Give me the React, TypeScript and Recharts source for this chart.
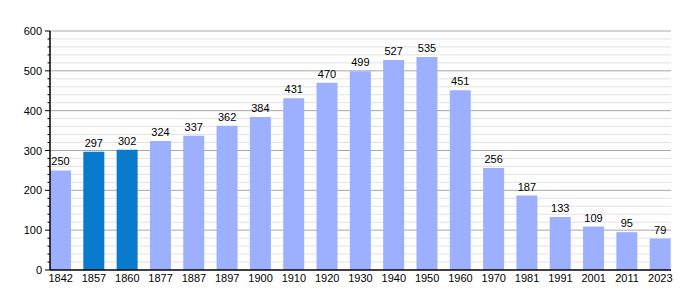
import React from 'react';
import { BarChart, Bar, XAxis, YAxis, CartesianGrid, Cell, LabelList } from 'recharts';

const years = ['1842','1857','1860','1877','1887','1897','1900','1910','1920','1930','1940','1950','1960','1970','1981','1991','2001','2011','2023'];
const population = [250,297,302,324,337,362,384,431,470,499,527,535,451,256,187,133,109,95,79];
const highlighted = ['1857','1860'];
const yTicks = [0,20,40,60,80,100,120,140,160,180,200,220,240,260,280,300,320,340,360,380,400,420,440,460,480,500,520,540,560,580,600];
const yMax = 600;
const majorTicks = [100,200,300,400,500,600];
const minorTicks = yTicks.filter(v => v % 100 !== 0);

const data = years.map((y, i) => ({ year: y, value: population[i] }));

const FONT = 'Liberation Sans, Arial, sans-serif';

const gridGen = (values: number[]) => ({ yAxis, offset }: any) => {
  if (yAxis && typeof yAxis.scale === 'function') return values.map(v => yAxis.scale(v));
  return values.map(v => offset.top + offset.height * (1 - v / yMax));
};

const YTick = (props: any) => {
  const { x, y, payload } = props;
  const v = payload.value;
  const major = v % 100 === 0;
  const axisX = x + 8;
  return (
    <g>
      <line x1={axisX - (major ? 5 : 2.5)} x2={axisX} y1={y} y2={y} stroke="#000" strokeWidth={1} />
      {major && (
        <text x={x} y={y} dy={4} textAnchor="end" fontSize={11} fill="#000" fontFamily={FONT}>{v}</text>
      )}
    </g>
  );
};

export default function App() {
  return (
    <div style={{ width: 692, height: 292 }}>
      <BarChart width={692} height={292} data={data} margin={{ top: 23, right: 29, left: 0, bottom: 0 }} barSize={21}>
        <CartesianGrid
          vertical={false}
          stroke="#e2e2e2"
          horizontalCoordinatesGenerator={gridGen(minorTicks)}
        />
        <CartesianGrid
          vertical={false}
          stroke="#a8a8a8"
          horizontalCoordinatesGenerator={gridGen(majorTicks)}
        />
        <XAxis
          dataKey="year"
          height={30}
          padding={{ left: -6, right: -6 }}
          tickLine={false}
          tickSize={0}
          tickMargin={4}
          axisLine={{ stroke: '#000', strokeWidth: 1.5 }}
          tick={{ fontSize: 11, fill: '#000', fontFamily: FONT }}
          interval={0}
        />
        <YAxis
          width={42}
          domain={[0, yMax]}
          ticks={yTicks}
          interval={0}
          tickLine={false}
          tickSize={5}
          tickMargin={3}
          axisLine={{ stroke: '#000', strokeWidth: 1.5 }}
          tick={<YTick />}
        />
        <Bar dataKey="value" isAnimationActive={false}>
          {data.map((d) => (
            <Cell key={d.year} fill={highlighted.includes(d.year) ? '#0a7acc' : '#9db0ff'} />
          ))}
          <LabelList dataKey="value" position="top" offset={5} style={{ fontSize: 11, fill: '#000', fontFamily: FONT }} />
        </Bar>
      </BarChart>
    </div>
  );
}
